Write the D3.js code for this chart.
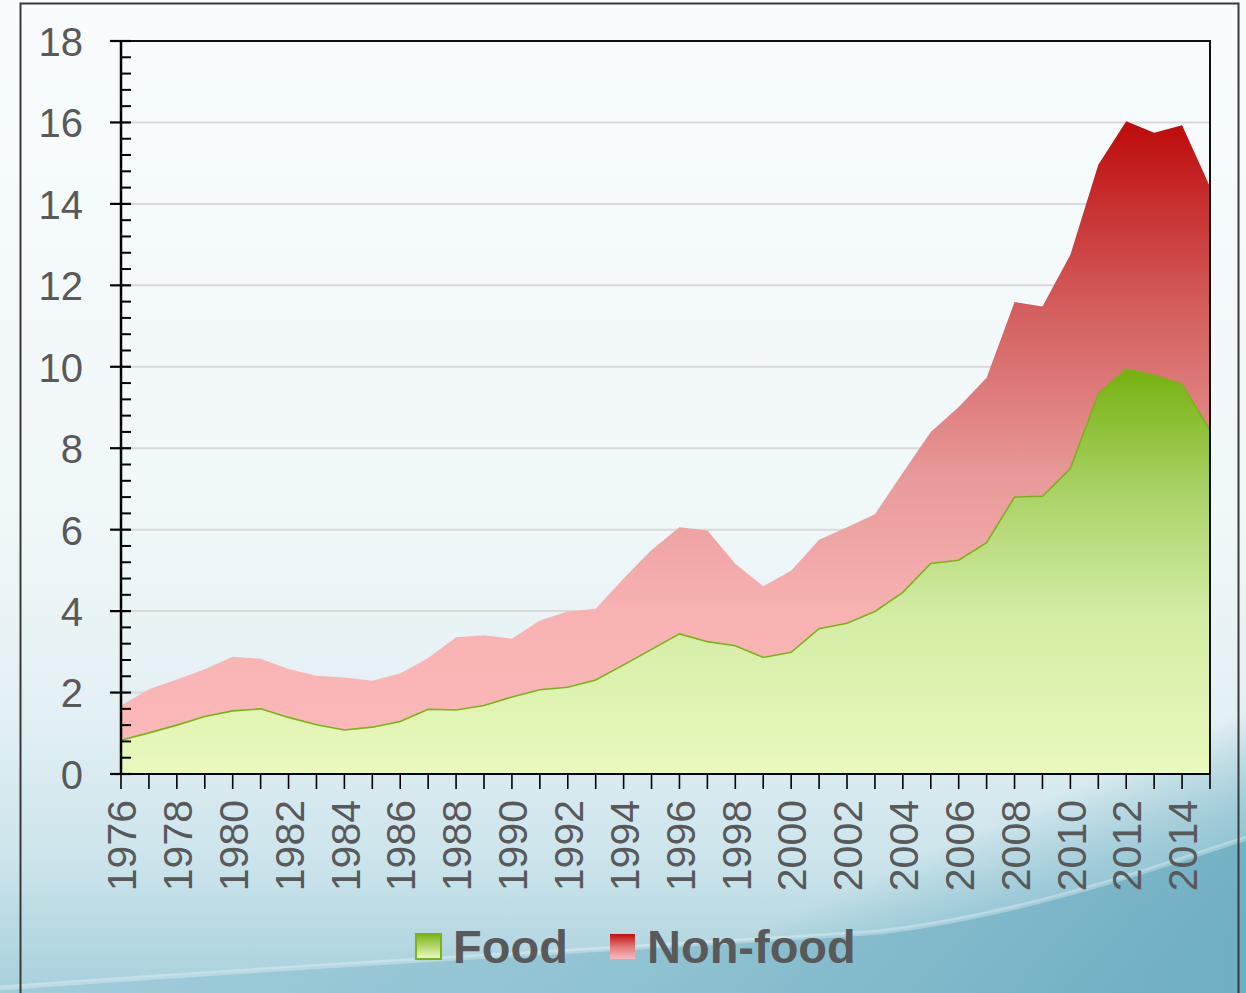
<!DOCTYPE html>
<html>
<head>
<meta charset="utf-8">
<style>
    body { margin: 0; background: #f5fafc; }
    svg { display: block; font-family: 'Liberation Sans', Arial, sans-serif; }
    .y .tick text { fill: #595959; font-size: 40px; }
    .x .tick text { fill: #595959; font-size: 41px; }
    .x .domain, .y .domain { display: none; }
    .legend text { fill: #595959; font-size: 47px; font-weight: bold; }
</style>
</head>
<body>
<svg width="1246" height="993"></svg>

<script src="https://d3js.org/d3.v7.min.js"></script>
<script>
    // data (1976-2015)
    let years = d3.range(1976, 2016)
    let food = [0.83, 1.01, 1.2, 1.41, 1.55, 1.6, 1.39, 1.21, 1.08, 1.15,
        1.29, 1.59, 1.57, 1.68, 1.89, 2.07, 2.13, 2.31, 2.68, 3.06,
        3.44, 3.25, 3.15, 2.86, 2.99, 3.57, 3.7, 3.99, 4.46, 5.17,
        5.25, 5.68, 6.8, 6.82, 7.5, 9.34, 9.94, 9.79, 9.57, 8.44]
    let nonFood = [0.85, 1.07, 1.12, 1.16, 1.33, 1.23, 1.19, 1.2, 1.29, 1.14,
        1.18, 1.26, 1.79, 1.73, 1.43, 1.7, 1.86, 1.75, 2.12, 2.44,
        2.62, 2.73, 2.01, 1.75, 2.0, 2.18, 2.36, 2.39, 2.94, 3.23,
        3.76, 4.05, 4.79, 4.66, 5.25, 5.62, 6.09, 5.96, 6.36, 5.98]
    let yTicks = [0, 2, 4, 6, 8, 10, 12, 14, 16, 18]
    let xLabelYears = d3.range(1976, 2016, 2)
    let seriesNames = ["Food", "Non-food"]

    let width = 1246
    let height = 993
    let margin = { top: 41, right: 36, bottom: 219, left: 121 }

    let svg = d3.select("svg")
    let defs = svg.append("defs")

    function gradient(id, x1, y1, x2, y2, stops, units) {
        let g = defs.append("linearGradient")
            .attr("id", id)
            .attr("x1", x1).attr("y1", y1)
            .attr("x2", x2).attr("y2", y2)
        if (units) g.attr("gradientUnits", units)
        stops.forEach(s => g.append("stop")
            .attr("offset", s[0])
            .attr("stop-color", s[1])
            .attr("stop-opacity", s.length > 2 ? s[2] : 1))
    }

    // slide background
    gradient("bg", 0, 0, 0, 1, [[0, "#f8fcfd"], [0.5, "#f1f8fa"], [0.72, "#e3f0f4"], [0.87, "#cbe4eb"], [1, "#a7d0dc"]])
    gradient("shade", 1000, 820, 1080, 1000,
        [[0, "#7db8ca", 0], [0.4, "#84bccd", 0.6], [1, "#70aec2", 1]], "userSpaceOnUse")
    gradient("wave", 0, 0, 1, 0, [[0, "#9fccd9"], [0.5, "#8bc0d0"], [1, "#70aec2"]])

    svg.append("rect").attr("width", width).attr("height", height).attr("fill", "url(#bg)")
    svg.append("rect").attr("width", width).attr("height", height).attr("fill", "url(#shade)")
    svg.append("path")
        .attr("d", "M0,988 C300,965 700,945 880,932 C1020,915 1150,870 1246,838 L1246,993 L0,993 Z")
        .attr("fill", "url(#wave)").attr("opacity", 0.85)
    svg.append("path")
        .attr("d", "M0,988 C300,965 700,945 880,932 C1020,915 1150,870 1246,838")
        .attr("fill", "none").attr("stroke", "#ffffff").attr("stroke-opacity", 0.3).attr("stroke-width", 5)

    // frame
    svg.append("rect")
        .attr("x", 20.5).attr("y", 3.5).attr("width", 1218).attr("height", 1010)
        .attr("fill", "none").attr("stroke", "#3a3a3a").attr("stroke-width", 2)

    let x = d3.scaleLinear()
        .domain([1976, 2015])
        .range([margin.left, width - margin.right])

    let y = d3.scaleLinear()
        .domain([0, 18])
        .range([height - margin.bottom, margin.top])

    // area gradients
    gradient("foodGrad", 0, y(d3.max(food)), 0, y(0),
        [[0, "#76b10f"], [0.3, "#a9d266"], [0.6, "#d3eca4"], [1, "#e9fabd"]], "userSpaceOnUse")
    let totalMax = d3.max(food.map((f, i) => f + nonFood[i]))
    gradient("nonFoodGrad", 0, y(totalMax), 0, y(0),
        [[0, "#be0a0a"], [0.28, "#d35c5c"], [0.55, "#e99a9a"], [0.75, "#f8b2b2"], [1, "#fcbaba"]], "userSpaceOnUse")
    gradient("foodKey", 0, 0, 0, 1, [[0, "#7ab317"], [1, "#eefcc4"]])
    gradient("nonFoodKey", 0, 0, 0, 1, [[0, "#c00d0d"], [0.5, "#e07777"], [1, "#fcbaba"]])

    // gridlines
    svg.append("g")
        .selectAll("line")
        .data(yTicks.filter(d => d > 0 && d < 18))
        .join("line")
        .attr("x1", x(1976)).attr("x2", x(2015))
        .attr("y1", d => y(d)).attr("y2", d => y(d))
        .attr("stroke", "#d9d9d9").attr("stroke-width", 2)

    // stacked areas
    let table = years.map((yr, i) => ({ year: yr, Food: food[i], "Non-food": nonFood[i] }))
    let stacked = d3.stack().keys(seriesNames)(table)

    let area = d3.area()
        .x(d => x(d.data.year))
        .y0(d => y(d[0]))
        .y1(d => y(d[1]))

    svg.append("g")
        .selectAll("path")
        .data(stacked)
        .join("path")
        .attr("d", area)
        .attr("fill", d => d.key == "Food" ? "url(#foodGrad)" : "url(#nonFoodGrad)")

    // food outline (top and right edge)
    let foodLine = d3.line()
        .x(d => x(d[0]))
        .y(d => y(d[1]))
    let outline = years.map((yr, i) => [yr, food[i]])
    outline.push([2015, 0])
    svg.append("path")
        .attr("d", foodLine(outline))
        .attr("fill", "none")
        .attr("stroke", "#7ab317")
        .attr("stroke-width", 1.6)

    // plot box top/right
    svg.append("path")
        .attr("d", `M${x(1976)},${y(18)} H${x(2015)} V${y(0)}`)
        .attr("fill", "none").attr("stroke", "#111").attr("stroke-width", 2)

    // y axis
    let yAxis = svg.append("g")
        .attr("class", "y axis")
        .attr("transform", `translate(${margin.left},0)`)
        .call(d3.axisLeft(y).tickValues(yTicks).tickSize(0).tickPadding(38))
    yAxis.selectAll(".tick text").attr("dy", "0.36em")

    svg.append("g")
        .selectAll("line")
        .data(yTicks)
        .join("line")
        .attr("x1", margin.left - 11).attr("x2", margin.left + 10)
        .attr("y1", d => y(d)).attr("y2", d => y(d))
        .attr("stroke", "#000").attr("stroke-width", 2.2)

    let minor = d3.range(0, 18.01, 0.4).filter(v => Math.abs(v / 2 - Math.round(v / 2)) > 0.01)
    svg.append("g")
        .selectAll("line")
        .data(minor)
        .join("line")
        .attr("x1", margin.left).attr("x2", margin.left + 10)
        .attr("y1", d => y(d)).attr("y2", d => y(d))
        .attr("stroke", "#000").attr("stroke-width", 2)

    svg.append("line")
        .attr("x1", margin.left).attr("x2", margin.left)
        .attr("y1", y(18)).attr("y2", y(0))
        .attr("stroke", "#000").attr("stroke-width", 2.5)

    // x axis
    svg.append("g")
        .selectAll("line")
        .data(years)
        .join("line")
        .attr("x1", d => x(d)).attr("x2", d => x(d))
        .attr("y1", y(0)).attr("y2", y(0) + 15)
        .attr("stroke", "#000").attr("stroke-width", 1.6)

    svg.append("line")
        .attr("x1", margin.left).attr("x2", x(2015))
        .attr("y1", y(0)).attr("y2", y(0))
        .attr("stroke", "#000").attr("stroke-width", 2.2)

    let xAxis = svg.append("g")
        .attr("class", "x axis")
        .attr("transform", `translate(0,${y(0)})`)
        .call(d3.axisBottom(x).tickValues(xLabelYears).tickFormat(d3.format("d")).tickSize(0))
    xAxis.selectAll(".tick text")
        .attr("transform", "rotate(-90)")
        .attr("text-anchor", "end")
        .attr("x", -26)
        .attr("y", 0)
        .attr("dy", "0.36em")

    // legend
    let legend = svg.append("g").attr("class", "legend")
    let keys = [
        { name: seriesNames[0], fill: "url(#foodKey)", stroke: "#7ab317", x: 416 },
        { name: seriesNames[1], fill: "url(#nonFoodKey)", stroke: "none", x: 610 }
    ]
    keys.forEach(k => {
        legend.append("rect")
            .attr("x", k.x).attr("y", 934)
            .attr("width", 25).attr("height", 25)
            .attr("fill", k.fill)
            .attr("stroke", k.stroke).attr("stroke-width", 2)
        legend.append("text")
            .attr("x", k.x + 37).attr("y", 963)
            .text(k.name)
    })
</script>
</body>
</html>
